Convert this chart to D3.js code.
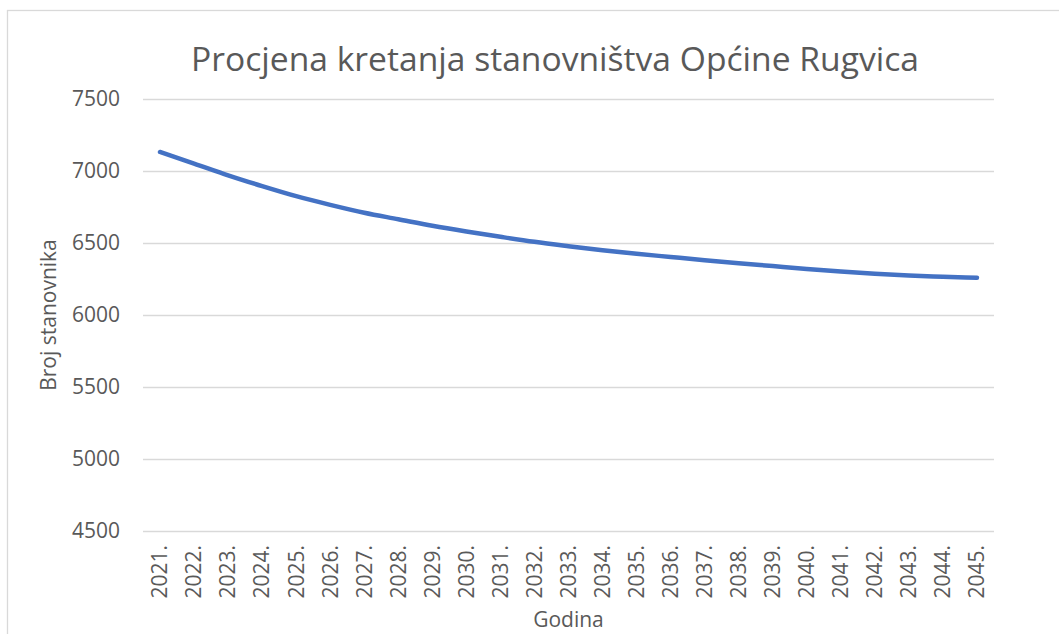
<!DOCTYPE html>
<html>
<head>
<meta charset="utf-8">
<script src="https://cdn.jsdelivr.net/npm/d3@7"></script>
<style>
  body { margin: 0; background: #fff; }
  text { font-family: "Open Sans", "Noto Sans", sans-serif; fill: #595959; }
</style>
</head>
<body>
<script>
// godine i procjena broja stanovnika
const years = ['2021.','2022.','2023.','2024.','2025.','2026.','2027.','2028.','2029.','2030.',
  '2031.','2032.','2033.','2034.','2035.','2036.','2037.','2038.','2039.','2040.',
  '2041.','2042.','2043.','2044.','2045.'];
const population = [7132, 7052, 6970, 6895, 6825, 6765, 6710, 6665, 6620, 6580,
  6543, 6508, 6478, 6450, 6425, 6403, 6381, 6360, 6340, 6320,
  6302, 6286, 6274, 6266, 6259];
const yTicks = [4500, 5000, 5500, 6000, 6500, 7000, 7500];

const W = 1059, H = 634;
const pLeft = 143, pRight = 994, pTop = 99, pBottom = 531;

var svg = d3.select('body').append('svg').attr('width', W).attr('height', H);

// okvir grafikona
svg.append('rect')
  .attr('x', 7.5).attr('y', 10.5)
  .attr('width', W + 20).attr('height', H + 20)
  .attr('fill', 'none').attr('stroke', '#d9d9d9').attr('stroke-width', 1.3);

var x = d3.scaleBand().domain(years).range([pLeft, pRight]);
var y = d3.scaleLinear().domain([4500, 7500]).range([pBottom, pTop]);

// mreza + oznake y osi
var yAxis = d3.axisLeft(y).tickValues(yTicks).tickSize(-(pRight - pLeft)).tickPadding(23).tickFormat(d3.format('d'));
var gy = svg.append('g').attr('transform', 'translate(' + pLeft + ',0)').call(yAxis);
gy.select('.domain').remove();
gy.selectAll('.tick line').attr('stroke', '#d9d9d9').attr('stroke-width', 1.3);
gy.selectAll('.tick text').style('font-size', '21px').attr('fill', '#595959');

// oznake x osi (okomite)
var xAxis = d3.axisBottom(x).tickSize(0).tickPadding(0);
var gx = svg.append('g').attr('transform', 'translate(0,' + pBottom + ')').call(xAxis);
gx.select('.domain').remove();
gx.selectAll('.tick text')
  .style('font-size', '21px').attr('fill', '#595959')
  .attr('transform', 'rotate(-90)')
  .attr('x', -14).attr('y', 0).attr('dy', '0.35em')
  .attr('text-anchor', 'end');

var line = d3.line()
  .x(function(d, i) { return x(years[i]) + x.bandwidth() / 2; })
  .y(function(d) { return y(d); })
  .curve(d3.curveMonotoneX);

svg.append('path').datum(population)
  .attr('d', line)
  .attr('fill', 'none')
  .attr('stroke', '#4472c4')
  .attr('stroke-width', 4.5)
  .attr('stroke-linecap', 'round')
  .attr('stroke-linejoin', 'round');

// naslovi
svg.append('text')
  .attr('x', 555).attr('y', 71)
  .attr('text-anchor', 'middle')
  .style('font-size', '33px')
  .attr('textLength', 728).attr('lengthAdjust', 'spacingAndGlyphs')
  .text('Procjena kretanja stanovništva Općine Rugvica');

svg.append('text')
  .attr('transform', 'translate(56,' + ((pTop + pBottom) / 2) + ') rotate(-90)')
  .attr('text-anchor', 'middle')
  .style('font-size', '21px')
  .text('Broj stanovnika');

svg.append('text')
  .attr('x', (pLeft + pRight) / 2).attr('y', 627)
  .attr('text-anchor', 'middle')
  .style('font-size', '21px')
  .text('Godina');
</script>
</body>
</html>
